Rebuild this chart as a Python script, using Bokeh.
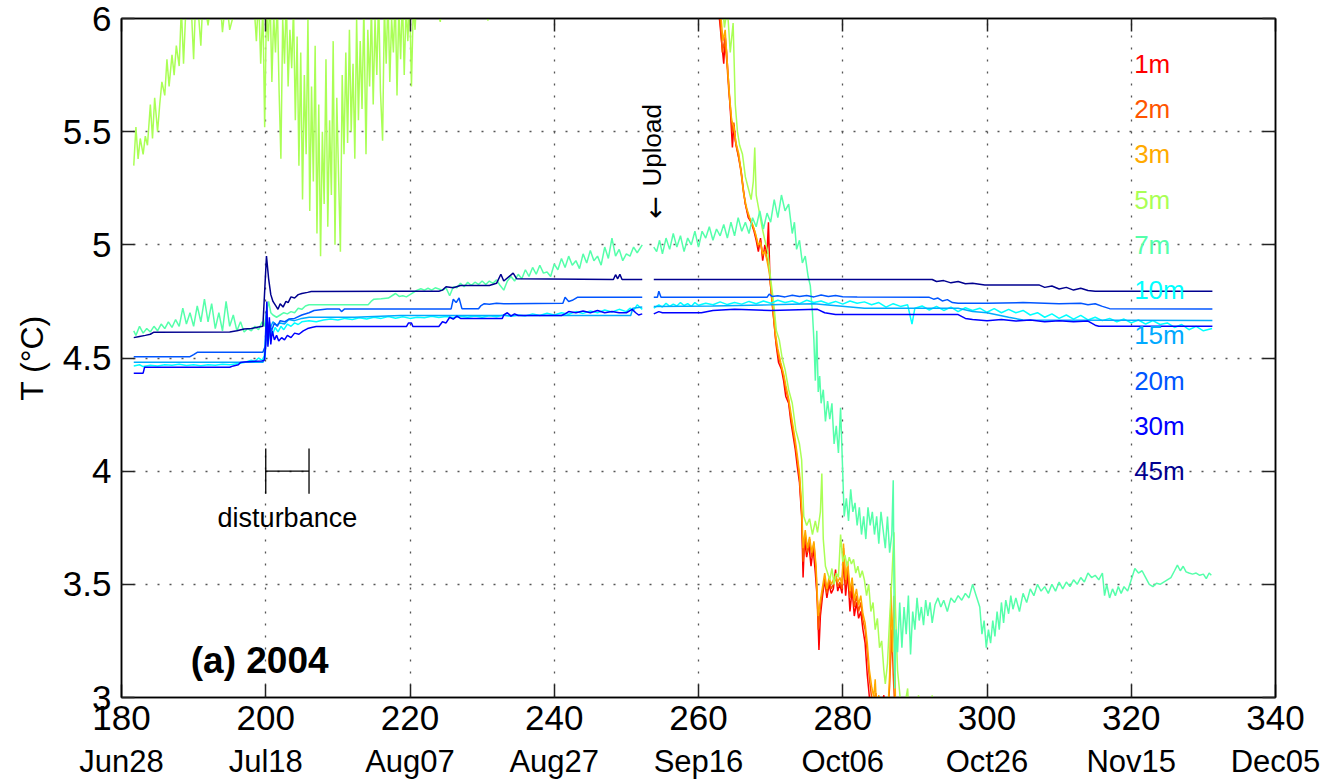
from math import pi

from bokeh.embed import file_html
from bokeh.models import (FixedTicker, Label, LinearAxis, NumeralTickFormatter)
from bokeh.plotting import figure
from bokeh.resources import INLINE

nan = float("nan")

# ---------------------------------------------------------------- data
# Thermistor string, 2004: day of year vs. temperature (deg C)
depths = ["1m", "2m", "3m", "5m", "7m", "10m", "15m", "20m", "30m", "45m"]
colors = ["#FF0000", "#FF5500", "#FFAA00", "#AAFF55", "#55FFAA",
          "#00FFFF", "#00AAFF", "#0055FF", "#0000FF", "#00008F"]

day_1m = [181.7, 220.0, 252.2, nan, 253.8, 262.0, 262.9, 263.2, 263.5, 263.7, 263.9, 264.2, 264.5, 264.7,
          264.9, 265.1, 265.5, 265.9, 266.2, 266.5, 266.9, 267.3, 267.7, 268.0, 268.3, 268.6, 268.9,
          269.2, 269.5, 269.7, 269.9, 270.2, 270.5, 270.8, 271.1, 271.5, 271.8, 272.1, 272.5, 272.8,
          273.1, 273.4, 273.7, 274.0, 274.3, 274.5, 274.7, 275.0, 275.3, 275.6, 275.9, 276.2, 276.5,
          276.7, 276.9, 277.2, 277.5, 277.8, 278.1, 278.4, 278.7, 279.0, 279.3, 279.6, 279.9, 280.1,
          280.4, 280.7, 281.0, 281.3, 281.6, 281.9, 282.2, 282.5, 282.8, 283.1, 283.4, 283.7, 284.0,
          284.3, 284.6, 285.7, 286.0, 287.0, 300.0, 331.1]
temp_1m = [7.0, 8.0, 7.5, nan, 7.0, 6.3, 6.0, 5.90, 5.80, 5.92, 5.85, 5.70, 5.55, 5.43,
           5.53, 5.46, 5.40, 5.33, 5.25, 5.18, 5.12, 5.10, 5.06, 5.02, 4.97, 5.03, 4.93,
           5.00, 4.96, 5.10, 4.85, 4.75, 4.65, 4.55, 4.48, 4.45, 4.40, 4.33, 4.30, 4.22,
           4.16, 4.10, 4.02, 3.95, 3.80, 3.53, 3.70, 3.62, 3.68, 3.58, 3.66, 3.55, 3.42,
           3.21, 3.36, 3.45, 3.52, 3.44, 3.50, 3.46, 3.48, 3.565, 3.47, 3.50, 3.46, 3.62,
           3.45, 3.55, 3.38, 3.48, 3.36, 3.42, 3.35, 3.38, 3.30, 3.24, 3.10, 3.00, 2.92,
           3.01, 2.85, 3.01, 2.85, 2.8, 2.6, 2.5]

day_2m = [181.7, 220.0, 252.2, nan, 253.8, 262.0, 263.0, 263.3, 263.6, 263.9, 264.2, 264.5, 264.7, 264.9,
          265.2, 265.6, 265.9, 266.2, 266.5, 266.9, 267.3, 267.7, 268.0, 268.3, 268.6, 268.9, 269.2,
          269.5, 269.8, 270.1, 270.4, 270.7, 271.0, 271.4, 271.8, 272.1, 272.5, 272.8, 273.1, 273.4,
          273.7, 274.0, 274.3, 274.5, 274.8, 275.1, 275.4, 275.7, 276.0, 276.3, 276.6, 276.9, 277.2,
          277.5, 277.8, 278.1, 278.4, 278.7, 279.0, 279.3, 279.6, 279.9, 280.1, 280.4, 280.7, 281.0,
          281.3, 281.6, 281.9, 282.2, 282.5, 282.8, 283.1, 283.4, 283.7, 284.0, 284.3, 284.6, 284.9,
          286.2, 286.5, 286.8, 287.0, 287.3, 300.0, 331.1]
temp_2m = [7.0, 8.0, 7.5, nan, 7.0, 6.3, 6.0, 5.85, 5.90, 5.82, 5.68, 5.58, 5.50, 5.54,
           5.44, 5.38, 5.32, 5.24, 5.18, 5.13, 5.10, 5.07, 5.03, 4.99, 5.02, 4.95, 4.98,
           4.94, 4.90, 4.78, 4.68, 4.58, 4.52, 4.47, 4.42, 4.36, 4.31, 4.24, 4.18, 4.12,
           4.05, 3.97, 3.82, 3.60, 3.72, 3.64, 3.70, 3.62, 3.68, 3.56, 3.30, 3.40, 3.47,
           3.53, 3.46, 3.52, 3.48, 3.50, 3.53, 3.49, 3.51, 3.48, 3.66, 3.50, 3.58, 3.44,
           3.50, 3.40, 3.45, 3.38, 3.42, 3.34, 3.30, 3.20, 3.08, 3.00, 2.95, 3.02, 2.90,
           2.90, 3.05, 3.30, 3.10, 2.90, 2.6, 2.5]

day_3m = [181.7, 220.0, 252.2, nan, 253.8, 262.0, 263.0, 263.4, 263.7, 264.0, 264.3, 264.6, 264.9, 265.2,
          265.6, 266.0, 266.3, 266.7, 267.1, 267.5, 267.9, 268.3, 268.6, 268.9, 269.2, 269.5, 269.8,
          270.1, 270.4, 270.7, 271.0, 271.4, 271.8, 272.1, 272.5, 272.8, 273.1, 273.4, 273.7, 274.0,
          274.3, 274.5, 274.8, 275.1, 275.4, 275.7, 276.0, 276.3, 276.6, 276.9, 277.2, 277.5, 277.8,
          278.1, 278.4, 278.7, 279.0, 279.3, 279.6, 279.9, 280.1, 280.4, 280.7, 281.0, 281.3, 281.6,
          281.9, 282.2, 282.5, 282.8, 283.1, 283.4, 283.7, 284.0, 284.3, 284.5, 284.7, 285.0, 285.3,
          286.2, 286.5, 286.7, 286.9, 287.1, 287.3, 287.5, 300.0, 331.1]
temp_3m = [7.0, 8.0, 7.5, nan, 7.0, 6.3, 6.05, 5.90, 5.95, 5.80, 5.66, 5.55, 5.52, 5.45,
           5.40, 5.30, 5.22, 5.16, 5.12, 5.09, 5.05, 5.00, 5.01, 4.96, 4.97, 4.93, 4.88,
           4.80, 4.70, 4.60, 4.54, 4.48, 4.43, 4.38, 4.32, 4.26, 4.20, 4.14, 4.07, 3.99,
           3.85, 3.66, 3.74, 3.66, 3.71, 3.64, 3.69, 3.58, 3.36, 3.43, 3.49, 3.55, 3.48,
           3.53, 3.50, 3.52, 3.54, 3.51, 3.53, 3.50, 3.68, 3.52, 3.60, 3.47, 3.53, 3.43,
           3.48, 3.41, 3.45, 3.37, 3.33, 3.24, 3.12, 3.05, 3.00, 3.08, 2.95, 3.01, 2.90,
           2.90, 3.10, 3.49, 3.20, 3.45, 3.00, 2.90, 2.6, 2.5]

day_5m = [181.7, 182.0, 182.3, 182.6, 183.0, 183.3, 183.6, 184.0, 184.3, 184.6, 185.0, 185.3, 185.6,
          186.0, 186.3, 186.6, 187.0, 187.3, 187.6, 188.0, 188.3, 188.6, 189.0, 189.3, 189.6, 190.0,
          190.3, 190.6, 191.0, 191.3, 191.6, 192.0, 192.5, 193.0, 193.5, 194.0, 194.5, 195.0, 197.0,
          198.4, 198.7, 199.0, 199.3,
          199.6, 199.85, 200.1, 200.35, 200.6, 200.85, 201.1, 201.35, 201.6, 201.85,
          202.1, 202.35, 202.6, 202.85, 203.1, 203.35, 203.6, 203.85, 204.1, 204.35,
          204.6, 204.85, 205.1, 205.35, 205.6, 205.85, 206.1, 206.35, 206.6, 206.85,
          207.1, 207.35, 207.6, 207.85, 208.1, 208.35, 208.6, 208.85, 209.1, 209.35,
          209.6, 209.85, 210.1, 210.35, 210.6, 210.85, 211.1, 211.35, 211.6, 211.85,
          212.1, 212.35, 212.6, 212.85, 213.1, 213.35, 213.6, 213.9, 214.15, 214.4,
          214.65, 214.9, 215.15, 215.4, 215.65, 215.9, 216.2, 216.45, 216.7, 216.95,
          217.2, 217.45, 217.7, 217.95, 218.2, 218.45, 218.7, 218.95, 219.2, 219.45,
          219.7, 219.95, 220.2, 220.45, 220.7, 221.0,
          221.5, 223.0, 224.2, 224.5, 227.0, 230.5, 230.8, 231.1, 240.0, 250.0, 252.2, nan, 253.8, 262.0,
          263.2, 263.6, 264.0, 264.4, 264.8, 265.1, 265.4, 265.7, 266.1, 266.5, 266.9, 267.3, 267.6,
          267.8, 268.0, 268.4, 268.8, 269.2, 269.6, 270.0, 270.4, 270.8, 271.2, 271.6, 272.0, 272.5,
          273.0, 273.5, 274.0, 274.3, 274.6, 275.0, 275.4, 275.8, 276.2, 276.5, 276.9, 277.1, 277.3,
          277.6, 277.9, 278.2, 278.5, 278.8, 279.1, 279.4, 279.7, 280.0, 280.3, 280.6, 280.9, 281.2,
          281.5, 281.8, 282.1, 282.4, 282.7, 283.0, 283.3, 283.6, 283.9, 284.2, 284.5, 284.8, 285.1,
          285.4, 285.7, 285.9, 286.2, 286.5, 286.8, 287.1, 287.3, 287.6, 287.9, 288.2, 288.5, 289.0,
          289.2, 290.0, 290.5, 290.8, 292.0, 292.4, 292.7, 300.0, 315.0, 331.1]
temp_5m = [5.35, 5.52, 5.38, 5.47, 5.40, 5.48, 5.44, 5.62, 5.47, 5.65, 5.50, 5.62, 5.72,
           5.66, 5.82, 5.70, 5.84, 5.75, 5.88, 5.79, 6.05, 5.80, 6.10, 6.02, 6.10, 5.82,
           6.10, 6.05, 5.88, 6.10, 6.05, 5.97, 6.10, 6.08, 6.15, 5.94, 6.10, 5.95, 6.20,
           6.05, 5.90, 6.10, 5.80,
           6.05, 5.52, 6.05, 5.90, 6.10, 5.72, 6.02, 5.85, 6.08, 5.68,
           5.38, 6.00, 5.80, 6.10, 5.70, 5.95, 5.78, 6.05, 5.55, 5.92,
           5.35, 5.85, 5.20, 5.75, 5.40, 6.00, 5.15, 5.70, 5.28, 5.88,
           5.05, 5.62, 4.95, 5.50, 5.18, 5.82, 5.08, 5.55, 5.22, 5.90,
           5.00, 5.65, 5.30, 4.97, 5.75, 5.40, 5.85, 5.45, 5.95, 5.50,
           5.80, 5.38, 6.00, 5.55, 5.90, 5.60, 6.05, 5.40, 5.95, 5.70,
           6.05, 5.62, 6.00, 5.75, 6.10, 5.68, 5.46, 6.05, 5.80, 6.10,
           5.72, 6.00, 5.85, 6.10, 5.66, 6.05, 5.82, 6.10, 5.75, 6.05,
           5.90, 6.10, 5.70, 6.05, 5.95, 6.15,
           6.20, 6.15, 5.985, 6.15, 6.20, 6.10, 5.99, 6.20, 6.30, 6.30, 6.35, nan, 6.30, 6.25,
           6.10, 5.96, 6.05, 5.85, 5.98, 5.62, 5.50, 5.44, 5.40, 5.30, 5.25, 5.20, 5.28,
           5.43, 5.22, 5.15, 5.08, 5.02, 4.97, 4.85, 4.75, 4.62, 4.58, 4.50, 4.45, 4.36,
           4.30, 4.18, 4.12, 4.05, 3.80, 3.76, 3.79, 3.72, 3.78, 3.73, 3.82, 3.99, 3.70,
           3.58, 3.55, 3.52, 3.57, 3.50, 3.55, 3.53, 3.72, 3.60, 3.63, 3.58, 3.62, 3.59,
           3.61, 3.55, 3.58, 3.53, 3.56, 3.52, 3.45, 3.50, 3.38, 3.42, 3.30, 3.35, 3.22,
           3.25, 3.12, 3.06, 3.15, 3.35, 3.52, 3.73, 3.40, 3.12, 3.02, 2.90, 2.95, 3.04,
           2.90, 2.85, 3.01, 2.90, 2.90, 3.01, 2.85, 2.7, 2.6, 2.6]

day_7m = [181.7, 182.0, 182.5, 183.0, 183.5, 184.0, 184.5, 185.0, 185.5, 186.0, 186.5, 187.0, 187.5,
          188.0, 188.5, 189.0, 189.5, 190.0, 190.5, 191.0, 191.5, 192.0, 192.5, 193.0, 193.5, 194.0,
          194.5, 195.0, 195.5, 196.0, 196.5, 197.0, 197.5, 198.0, 198.5, 199.0, 199.5, 199.8, 200.1,
          200.4, 200.7, 201.0, 201.5, 202.0, 202.5, 203.0, 203.5, 204.0, 204.5, 205.0, 205.5, 206.0,
          214.2, 214.6, 215.0, 216.0, 217.0, 217.5, 218.0, 218.5, 219.0, 219.5, 220.0, 220.5, 221.0,
          221.5, 222.0, 222.5, 223.0, 223.5, 224.0, 224.5, 225.0, 225.5, 226.0, 226.5, 227.0, 227.5,
          228.0, 228.5, 229.0, 229.5, 230.0, 230.5, 231.0, 231.5, 232.0, 232.5, 233.0, 233.5, 234.0,
          234.5, 235.0, 235.5, 236.0, 236.5, 237.0, 237.5, 238.0, 238.5, 239.0, 239.5, 240.0, 240.5,
          241.0, 241.5, 242.0, 242.5, 243.0, 243.5, 244.0, 244.5, 245.0, 245.5, 246.0, 246.5, 247.0,
          247.5, 248.0, 248.5, 249.0, 249.5, 250.0, 250.5, 251.0, 251.5, 252.2, nan, 253.8, 254.2,
          254.6, 255.0, 255.5, 256.0, 256.5, 257.0, 257.5, 258.0, 258.5, 259.0, 259.5, 260.0, 260.5,
          261.0, 261.5, 262.0, 262.5, 263.0, 263.5, 264.0, 264.5, 265.0, 265.5, 266.0, 266.5, 267.0,
          267.5, 268.0, 268.5, 269.0, 269.5, 270.0, 270.5, 271.0, 271.5, 272.0, 272.5, 273.0, 273.3,
          273.6, 274.0, 274.4, 274.8, 275.2, 275.5, 275.8, 276.0, 276.2, 276.4, 276.6, 276.8, 277.0,
          277.3, 277.6, 277.9, 278.2, 278.5, 278.8, 279.1, 279.4, 279.7, 280.0, 280.2, 280.5, 280.8,
          281.1, 281.4, 281.7, 282.0, 282.3, 282.6, 282.9, 283.2, 283.5, 283.8, 284.1, 284.4, 284.7,
          285.0, 285.3, 285.6, 285.9, 286.2, 286.5, 286.8, 287.0, 287.2, 287.4, 287.6, 287.9, 288.2,
          288.5, 288.8, 289.1, 289.4, 289.7, 290.0, 290.3, 290.6, 290.9, 291.2, 291.5, 291.8, 292.1,
          292.4, 292.8, 293.2, 293.6, 294.0, 294.5, 295.0, 295.5, 296.0, 296.5, 297.0, 297.5, 298.0,
          298.5, 299.0, 299.3, 299.6, 299.9, 300.2, 300.5, 300.8, 301.1, 301.4, 301.7, 302.0, 302.3,
          302.6, 303.0, 303.3, 303.6, 304.0, 304.5, 305.0, 305.5, 306.0, 306.5, 307.0, 307.5, 308.0,
          308.5, 309.0, 309.5, 310.0, 310.5, 311.0, 311.5, 312.0, 312.5, 313.0, 313.5, 314.0, 314.5,
          315.0, 315.5, 316.0, 316.3, 316.6, 317.0, 317.4, 317.8, 318.2, 318.6, 319.0, 319.5, 320.0,
          320.5, 321.0, 321.5, 322.0, 322.5, 323.0, 323.5, 324.0, 324.5, 325.0, 325.5, 326.0, 326.4,
          326.8, 327.2, 327.6, 328.0, 328.5, 329.0, 329.5, 330.0, 330.4, 330.8, 331.1]
temp_7m = [4.62, 4.60, 4.64, 4.61, 4.63, 4.615, 4.64, 4.62, 4.65, 4.63, 4.66, 4.635, 4.67,
           4.64, 4.72, 4.65, 4.70, 4.64, 4.73, 4.66, 4.76, 4.66, 4.74, 4.63, 4.70, 4.62,
           4.75, 4.64, 4.69, 4.62, 4.66, 4.615, 4.63, 4.62, 4.64, 4.625, 4.66, 4.64, 4.70,
           4.75, 4.70, 4.69, 4.68, 4.69, 4.70, 4.695, 4.705, 4.70, 4.72, 4.715, 4.73, 4.735,
           4.735, 4.75, 4.76, 4.762, 4.765, 4.775, 4.785, 4.772, 4.775, 4.77, 4.78, 4.79, 4.80,
           4.806, 4.80, 4.808, 4.80, 4.81, 4.805, 4.80, 4.81, 4.775, 4.815, 4.81, 4.83, 4.815,
           4.835, 4.82, 4.835, 4.825, 4.84, 4.825, 4.84, 4.83, 4.845, 4.82, 4.80, 4.84, 4.86,
           4.84, 4.87, 4.85, 4.89, 4.86, 4.90, 4.87, 4.91, 4.875, 4.88, 4.86, 4.915, 4.89,
           4.94, 4.90, 4.95, 4.91, 4.93, 4.895, 4.96, 4.92, 4.975, 4.93, 4.95, 4.91, 4.99,
           4.94, 5.03, 4.95, 4.98, 4.93, 4.96, 4.95, 4.99, 4.965, 5.00, nan, 4.99, 4.97,
           5.02, 4.96, 5.03, 4.98, 5.05, 4.99, 5.04, 4.97, 5.03, 5.00, 5.06, 4.99, 5.06,
           5.03, 5.08, 5.02, 5.07, 5.04, 5.09, 5.03, 5.10, 5.04, 5.12, 5.06, 5.10, 5.05,
           5.12, 5.08, 5.15, 5.07, 5.14, 5.10, 5.20, 5.12, 5.22, 5.15, 5.18, 5.05, 5.10,
           4.98, 5.02, 4.92, 4.95, 4.86, 4.82, 4.70, 4.58, 4.40, 4.62, 4.35, 4.42, 4.30,
           4.36, 4.22, 4.31, 4.23, 4.30, 4.12, 4.20, 4.08, 4.28, 3.99, 3.80, 3.88, 3.78,
           3.92, 3.82, 3.86, 3.76, 3.84, 3.72, 3.80, 3.70, 3.84, 3.76, 3.82, 3.72, 3.80,
           3.68, 3.82, 3.74, 3.66, 3.80, 3.64, 3.72, 3.96, 3.04, 3.30, 3.20, 3.42, 3.22,
           3.40, 3.28, 3.45, 3.19, 3.38, 3.30, 3.44, 3.34, 3.40, 3.32, 3.43, 3.36, 3.42,
           3.33, 3.41, 3.44, 3.40, 3.43, 3.38, 3.44, 3.42, 3.45, 3.43, 3.46, 3.44, 3.50,
           3.45, 3.40, 3.28, 3.34, 3.22, 3.30, 3.24, 3.34, 3.27, 3.38, 3.30, 3.42, 3.33,
           3.43, 3.37, 3.45, 3.39, 3.44, 3.38, 3.46, 3.42, 3.48, 3.45, 3.50, 3.47, 3.49,
           3.46, 3.50, 3.47, 3.51, 3.48, 3.51, 3.49, 3.52, 3.50, 3.53, 3.51, 3.55, 3.53,
           3.54, 3.52, 3.55, 3.45, 3.50, 3.44, 3.48, 3.45, 3.49, 3.46, 3.49, 3.47, 3.52,
           3.57, 3.55, 3.56, 3.53, 3.50, 3.49, 3.505, 3.50, 3.51, 3.52, 3.53, 3.56, 3.585,
           3.56, 3.58, 3.555, 3.55, 3.545, 3.55, 3.54, 3.545, 3.525, 3.55, 3.54]

day_10m = [181.7, 182.5, 183.0, 184.0, 185.0, 186.0, 187.0, 188.0, 189.0, 190.0, 191.0, 192.0, 193.0,
           194.0, 195.0, 196.0, 197.0, 198.0, 198.5, 199.0, 199.5, 199.8, 200.1, 200.3, 200.6, 200.9,
           201.3, 201.7, 202.1, 202.5, 203.0, 203.5, 204.0, 204.5, 205.0, 206.0, 207.0, 208.0, 209.0,
           210.0, 211.0, 212.0, 213.0, 214.0, 215.0, 216.0, 217.0, 218.0, 219.0, 220.0, 221.0, 222.0,
           223.0, 224.0, 225.0, 226.0, 227.0, 228.0, 229.0, 230.0, 231.0, 232.0, 233.0, 234.0, 235.0,
           236.0, 237.0, 238.0, 239.0, 240.0, 241.0, 242.0, 243.0, 244.0, 245.0, 246.0, 247.0, 248.0,
           249.0, 250.0, 250.5, 251.0, 251.5, 252.2, nan, 253.8, 254.5, 255.0, 255.5, 256.0, 256.5,
           257.0, 257.5, 258.0, 258.5, 259.0, 259.5, 260.0, 261.0, 262.0, 263.0, 264.0, 265.0, 266.0,
           267.0, 268.0, 269.0, 270.0, 271.0, 272.0, 273.0, 274.0, 275.0, 276.0, 277.0, 278.0, 279.0,
           280.0, 281.0, 282.0, 283.0, 284.0, 285.0, 286.0, 287.0, 288.0, 289.0, 289.6, 290.0, 291.0,
           292.0, 293.0, 294.0, 295.0, 296.0, 297.0, 298.0, 299.0, 300.0, 301.0, 302.0, 303.0, 304.0,
           305.0, 306.0, 307.0, 308.0, 309.0, 310.0, 311.0, 312.0, 313.0, 314.0, 315.0, 316.0, 317.0,
           318.0, 319.0, 320.0, 321.0, 322.0, 323.0, 324.0, 325.0, 326.0, 327.0, 328.0, 329.0, 330.0,
           331.2]
temp_10m = [4.465, 4.47, 4.462, 4.468, 4.465, 4.47, 4.468, 4.472, 4.467, 4.47, 4.466, 4.47, 4.468,
            4.472, 4.47, 4.475, 4.48, 4.49, 4.485, 4.50, 4.49, 4.51, 4.63, 4.57, 4.64, 4.60,
            4.635, 4.615, 4.64, 4.625, 4.65, 4.64, 4.655, 4.648, 4.66, 4.665, 4.66, 4.668, 4.672,
            4.668, 4.675, 4.67, 4.678, 4.672, 4.68, 4.675, 4.683, 4.676, 4.682, 4.675, 4.68, 4.678,
            4.684, 4.679, 4.683, 4.678, 4.684, 4.68, 4.686, 4.68, 4.687, 4.682, 4.69, 4.684, 4.69,
            4.686, 4.695, 4.688, 4.698, 4.69, 4.70, 4.693, 4.705, 4.697, 4.708, 4.70, 4.712, 4.703,
            4.715, 4.705, 4.72, 4.71, 4.735, 4.715, nan, 4.72, 4.735, 4.725, 4.742, 4.728, 4.738,
            4.73, 4.745, 4.732, 4.74, 4.728, 4.745, 4.733, 4.742, 4.735, 4.748, 4.736, 4.745, 4.738,
            4.75, 4.74, 4.752, 4.742, 4.755, 4.745, 4.752, 4.74, 4.755, 4.745, 4.752, 4.74, 4.75,
            4.738, 4.752, 4.742, 4.748, 4.735, 4.745, 4.725, 4.74, 4.728, 4.735, 4.65, 4.72, 4.73,
            4.712, 4.728, 4.71, 4.725, 4.705, 4.722, 4.71, 4.72, 4.702, 4.718, 4.70, 4.715, 4.70,
            4.71, 4.69, 4.70, 4.68, 4.695, 4.675, 4.69, 4.672, 4.688, 4.668, 4.68, 4.665, 4.675,
            4.66, 4.672, 4.655, 4.668, 4.65, 4.665, 4.648, 4.655, 4.635, 4.648, 4.625, 4.64, 4.62,
            4.63]

day_15m = [181.7, 199.6, 199.9, 200.1, 200.3, 200.6, 201.0, 201.5, 202.0, 202.6, 203.2, 204.0, 205.0,
           206.0, 212.3, 218.7, 250.6, 250.9, 252.2, nan, 253.8, 262.0, 270.0, 276.0, 283.0, 296.0,
           298.0, 300.0, 303.0, 305.0, 331.25]
temp_15m = [4.481, 4.481, 4.50, 4.62, 4.56, 4.63, 4.66, 4.645, 4.655, 4.65, 4.67, 4.665, 4.675,
            4.68, 4.68, 4.688, 4.688, 4.72, 4.725, nan, 4.728, 4.73, 4.735, 4.74, 4.72, 4.72,
            4.705, 4.70, 4.68, 4.668, 4.666]

day_20m = [181.7, 189.5, 190.0, 190.5, 199.6, 199.9, 200.1, 200.3, 200.5, 200.8, 201.2, 201.6, 202.0,
           202.6, 203.2, 204.0, 205.0, 206.0, 206.7, 208.5, 210.2, 210.5, 210.9, 225.7, 226.0, 226.4,
           226.8, 227.2, 229.5, 229.8, 230.3, 231.0, 232.0, 233.0, 241.2, 241.5, 242.0, 242.5, 243.2,
           252.2, nan, 253.8, 254.3, 254.5, 254.8, 269.5, 269.8, 270.2, 271.0, 272.0, 273.0, 274.0,
           275.0, 276.0, 277.0, 278.0, 279.0, 280.0, 282.0, 292.0, 292.6, 293.2, 293.8, 294.5, 295.2,
           296.0, 300.0, 305.0, 310.0, 313.0, 314.0, 315.0, 316.0, 317.0, 331.25]
temp_20m = [4.506, 4.506, 4.515, 4.525, 4.525, 4.55, 4.71, 4.60, 4.66, 4.62, 4.655, 4.64, 4.665,
            4.66, 4.672, 4.675, 4.69, 4.70, 4.71, 4.716, 4.716, 4.705, 4.716, 4.717, 4.76, 4.745,
            4.765, 4.718, 4.718, 4.73, 4.74, 4.738, 4.742, 4.74, 4.742, 4.768, 4.75, 4.755, 4.768,
            4.768, nan, 4.768, 4.768, 4.795, 4.768, 4.768, 4.782, 4.772, 4.775, 4.77, 4.777, 4.772,
            4.776, 4.77, 4.778, 4.772, 4.776, 4.771, 4.769, 4.768, 4.76, 4.765, 4.752, 4.758, 4.745,
            4.742, 4.742, 4.745, 4.74, 4.742, 4.735, 4.74, 4.728, 4.718, 4.717]

day_30m = [181.7, 183.0, 183.2, 195.0, 195.5, 196.2, 196.5, 197.0, 198.0, 199.5, 199.8, 200.0, 200.15,
           200.3, 200.5, 200.7, 200.9, 201.2, 201.5, 201.8, 202.2, 202.6, 203.0, 203.5, 204.0, 204.6,
           205.2, 205.8, 206.5, 207.0, 219.5, 219.8, 220.2, 220.4, 224.0, 224.5, 225.0, 225.5, 226.0,
           226.5, 227.0, 232.8, 233.0, 233.5, 234.0, 234.5, 235.0, 241.0, 241.5, 242.0, 243.0, 244.0,
           245.0, 246.0, 247.0, 248.0, 249.0, 250.0, 250.8, 251.3, 251.7, 252.2, nan, 253.8, 254.5,
           255.0, 260.4, 262.0, 265.0, 270.0, 276.5, 277.5, 279.0, 296.0, 297.0, 298.0, 300.0, 302.0,
           304.0, 306.0, 308.0, 310.0, 312.0, 314.0, 315.0, 315.5, 331.25]
temp_30m = [4.433, 4.433, 4.459, 4.459, 4.465, 4.47, 4.48, 4.482, 4.485, 4.487, 4.49, 4.56, 4.75,
            4.55, 4.68, 4.56, 4.62, 4.58, 4.60, 4.575, 4.59, 4.58, 4.60, 4.59, 4.61, 4.605,
            4.62, 4.63, 4.636, 4.639, 4.639, 4.655, 4.655, 4.639, 4.639, 4.66, 4.655, 4.68, 4.672,
            4.685, 4.675, 4.675, 4.69, 4.70, 4.685, 4.695, 4.688, 4.688, 4.695, 4.705, 4.70, 4.708,
            4.70, 4.71, 4.70, 4.705, 4.70, 4.70, 4.715, 4.70, 4.69, 4.695, nan, 4.695, 4.705,
            4.70, 4.70, 4.71, 4.715, 4.71, 4.715, 4.70, 4.692, 4.692, 4.675, 4.67, 4.665, 4.67,
            4.663, 4.668, 4.66, 4.665, 4.66, 4.663, 4.645, 4.64, 4.64]

day_45m = [181.7, 182.5, 183.3, 184.0, 184.5, 195.0, 196.0, 197.0, 198.0, 199.0, 199.6, 200.1, 200.4,
           200.7, 201.0, 201.4, 201.7, 202.0, 202.4, 202.8, 203.1, 203.5, 204.0, 204.5, 205.0, 205.8,
           206.3, 218.7, 224.0, 224.5, 225.0, 226.0, 227.0, 231.0, 232.0, 232.6, 233.0, 234.3, 234.8,
           248.2, 248.5, 248.8, 249.1, 249.4, 252.2, nan, 253.8, 282.6, 292.4, 293.0, 294.0, 295.0,
           296.0, 297.0, 298.0, 299.7, 307.2, 308.0, 309.0, 310.0, 311.0, 312.0, 313.0, 314.0, 315.0,
           331.25]
temp_45m = [4.59, 4.595, 4.60, 4.605, 4.614, 4.615, 4.62, 4.628, 4.63, 4.637, 4.64, 4.95, 4.85,
            4.78, 4.75, 4.73, 4.715, 4.74, 4.725, 4.75, 4.745, 4.77, 4.765, 4.78, 4.785, 4.79,
            4.794, 4.795, 4.795, 4.80, 4.815, 4.81, 4.82, 4.82, 4.83, 4.87, 4.84, 4.875, 4.85,
            4.847, 4.868, 4.85, 4.87, 4.847, 4.847, nan, 4.847, 4.847, 4.847, 4.838, 4.842, 4.832,
            4.838, 4.828, 4.83, 4.823, 4.823, 4.812, 4.818, 4.805, 4.812, 4.80, 4.808, 4.798, 4.795,
            4.795]

days = [day_1m, day_2m, day_3m, day_5m, day_7m, day_10m, day_15m, day_20m, day_30m, day_45m]
temps = [temp_1m, temp_2m, temp_3m, temp_5m, temp_7m, temp_10m, temp_15m, temp_20m, temp_30m, temp_45m]

x_ticks = [180, 200, 220, 240, 260, 280, 300, 320, 340]
date_labels = ["Jun28", "Jul18", "Aug07", "Aug27", "Sep16", "Oct06", "Oct26", "Nov15", "Dec05"]
y_ticks = [3, 3.5, 4, 4.5, 5, 5.5, 6]

disturbance_start, disturbance_end, disturbance_level = 200, 206, 4.0
upload_day = 253.6

# ---------------------------------------------------------------- figure
SANS = "Liberation Sans"

p = figure(width=1334, height=784, x_range=(180, 340), y_range=(3, 6),
           output_backend="svg", toolbar_location=None,
           min_border_left=121, min_border_right=59, min_border_top=18, min_border_bottom=87)
p.background_fill_color = "white"
p.border_fill_color = "white"
p.outline_line_color = "black"
p.outline_line_width = 1.5

for d, t, c in zip(days, temps, colors):
    p.line(d, t, line_color=c, line_width=1.5)

# ---------------------------------------------------------------- axes & grid
xt = FixedTicker(ticks=x_ticks)
yt = FixedTicker(ticks=y_ticks)

def style_axis(ax, font_size):
    ax.axis_line_color = "black"
    ax.axis_line_width = 1.5
    ax.major_tick_in = 13
    ax.major_tick_out = 0
    ax.major_tick_line_color = "#222222"
    ax.major_tick_line_width = 1.5
    ax.minor_tick_line_color = None
    ax.major_label_text_font = SANS
    ax.major_label_text_font_size = font_size
    ax.major_label_text_color = "black"

xa = p.xaxis[0]
xa.ticker = xt
style_axis(xa, "35px")
xa.major_label_standoff = 8

ya = p.yaxis[0]
ya.ticker = yt
ya.formatter = NumeralTickFormatter(format="0.[0]")
style_axis(ya, "35px")
ya.major_label_standoff = 10
ya.axis_label = "T (\u00b0C)"
ya.axis_label_text_font = SANS
ya.axis_label_text_font_size = "32px"
ya.axis_label_text_font_style = "normal"
ya.axis_label_text_color = "black"
ya.axis_label_standoff = 10

# second row of x labels: calendar dates
date_axis = LinearAxis(ticker=xt, major_label_overrides=dict(zip(x_ticks, date_labels)))
date_axis.axis_line_color = None
date_axis.major_tick_line_color = None
date_axis.minor_tick_line_color = None
date_axis.major_label_text_font = SANS
date_axis.major_label_text_font_size = "31px"
date_axis.major_label_text_color = "black"
date_axis.major_label_standoff = 5
p.add_layout(date_axis, "below")

# boxed frame with inward ticks on top and right
for loc, tk in (("above", xt), ("right", yt)):
    ax = LinearAxis(ticker=tk)
    style_axis(ax, "0px")
    ax.major_label_standoff = 0
    ax.major_label_text_alpha = 0
    p.add_layout(ax, loc)

for g, tk in ((p.xgrid[0], xt), (p.ygrid[0], yt)):
    g.ticker = tk
    g.grid_line_color = "#555555"
    g.grid_line_width = 1.3
    g.grid_line_dash = "2 10"

# ---------------------------------------------------------------- depth labels
for i, (name, c) in enumerate(zip(depths, colors)):
    p.add_layout(Label(x=320.4, y=5.8 - 0.2 * i, text=name, text_color=c,
                       text_font=SANS, text_font_size="26px",
                       text_align="left", text_baseline="middle"))

# ---------------------------------------------------------------- annotations
p.segment(x0=[disturbance_start, disturbance_end, disturbance_start],
          y0=[disturbance_level - 0.1, disturbance_level - 0.1, disturbance_level],
          x1=[disturbance_start, disturbance_end, disturbance_end],
          y1=[disturbance_level + 0.1, disturbance_level + 0.1, disturbance_level],
          line_color="black", line_width=1.3)
p.add_layout(Label(x=(disturbance_start + disturbance_end) / 2, y=disturbance_level - 0.205,
                   text="disturbance", text_font=SANS, text_font_size="27px",
                   text_align="center", text_baseline="middle", text_color="black"))

p.add_layout(Label(x=upload_day, y=5.44, text="Upload", angle=pi / 2,
                   text_font=SANS, text_font_size="26px",
                   text_align="center", text_baseline="middle", text_color="black"))
p.add_layout(Label(x=upload_day + 0.3, y=5.165, text="\u2190", angle=pi / 2,
                   text_font="DejaVu Sans", text_font_size="27px",
                   text_align="center", text_baseline="middle", text_color="black"))

p.add_layout(Label(x=189.6, y=3.163, text="(a) 2004", text_font=SANS, text_font_size="37px",
                   text_font_style="bold", text_align="left", text_baseline="middle",
                   text_color="black"))

open("out.html", "w").write(file_html(p, INLINE))
